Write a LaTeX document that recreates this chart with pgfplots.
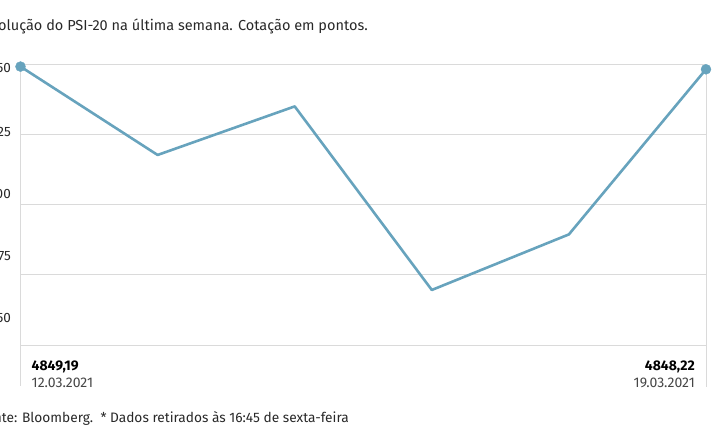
\documentclass[border=0pt]{standalone}
\usepackage{pgfplots}
\pgfplotsset{compat=1.18}
\usepackage{fontspec}
\setmainfont{Fira Sans}
\definecolor{linec}{RGB}{103,163,189}
\definecolor{gridc}{RGB}{218,218,218}
\definecolor{txt}{RGB}{40,40,40}
\definecolor{datec}{RGB}{70,70,70}
\begin{document}
\begin{tikzpicture}
\useasboundingbox (0pt,0pt) rectangle (715pt,445pt);
\begin{scope}
\clip (0pt,0pt) rectangle (715pt,445pt);
\begin{axis}[
  at={(20.5pt,100pt)}, anchor=south west,
  width=685.5pt, height=280.7pt, scale only axis,
  xmin=0, xmax=5, ymin=4750, ymax=4850,
  clip=false,
  axis line style={draw=none},
  xtick=\empty,
  ytick={4750,4775,4800,4825,4850},
  yticklabels={},
  major tick length=0pt,
  ymajorgrids,
  grid style={gridc, line width=1pt},
]
\addplot[linec, line width=2.6pt, line join=round] coordinates {
  (0,4849.19) (1,4817.7) (2,4835.0) (3,4769.6) (4,4789.4) (5,4848.22)
};
\addplot[only marks, mark=*, mark size=5pt, linec, mark options={draw=linec, fill=linec}] coordinates {
  (0,4849.19) (5,4848.22)
};
\draw[gridc, line width=1pt] (axis cs:0,4850) -- ++(0pt,-322pt);
\draw[gridc, line width=1pt] (axis cs:5,4848.22) -- ++(0pt,-318pt);
\node[anchor=east, font=\fontsize{13.5}{15}\selectfont, text=txt, inner sep=0pt, xshift=-9.5pt] at (axis cs:0,4848.7) {4850};
\node[anchor=east, font=\fontsize{13.5}{15}\selectfont, text=txt, inner sep=0pt, xshift=-9.5pt] at (axis cs:0,4825.9) {4825};
\node[anchor=east, font=\fontsize{13.5}{15}\selectfont, text=txt, inner sep=0pt, xshift=-9.5pt] at (axis cs:0,4803.8) {4800};
\node[anchor=east, font=\fontsize{13.5}{15}\selectfont, text=txt, inner sep=0pt, xshift=-9.5pt] at (axis cs:0,4781.7) {4775};
\node[anchor=east, font=\fontsize{13.5}{15}\selectfont, text=txt, inner sep=0pt, xshift=-9.5pt] at (axis cs:0,4759.6) {4750};
\end{axis}
\node[anchor=base west, inner sep=0pt, font=\fontsize{14}{16}\selectfont\bfseries, text=black] at (31.5pt,75pt) {4849,19};
\node[anchor=base west, inner sep=0pt, font=\fontsize{14}{16}\selectfont, text=datec] at (31.5pt,58pt) {12.03.2021};
\node[anchor=base east, inner sep=0pt, font=\fontsize{14}{16}\selectfont\bfseries, text=black] at (695pt,75pt) {4848,22};
\node[anchor=base east, inner sep=0pt, font=\fontsize{14}{16}\selectfont, text=datec] at (695pt,58pt) {19.03.2021};
\node[anchor=base east, inner sep=0pt, font=\fontsize{14.5}{17}\selectfont, text=txt] at (368pt,414pt) {Evolução do PSI-20 na última semana. Cotação em pontos.};
\node[anchor=base east, inner sep=0pt, font=\fontsize{13.7}{16}\selectfont, text=txt] at (349pt,23pt) {Fonte: Bloomberg.\ \ * Dados retirados às 16:45 de sexta-feira};
\end{scope}
\end{tikzpicture}
\end{document}
